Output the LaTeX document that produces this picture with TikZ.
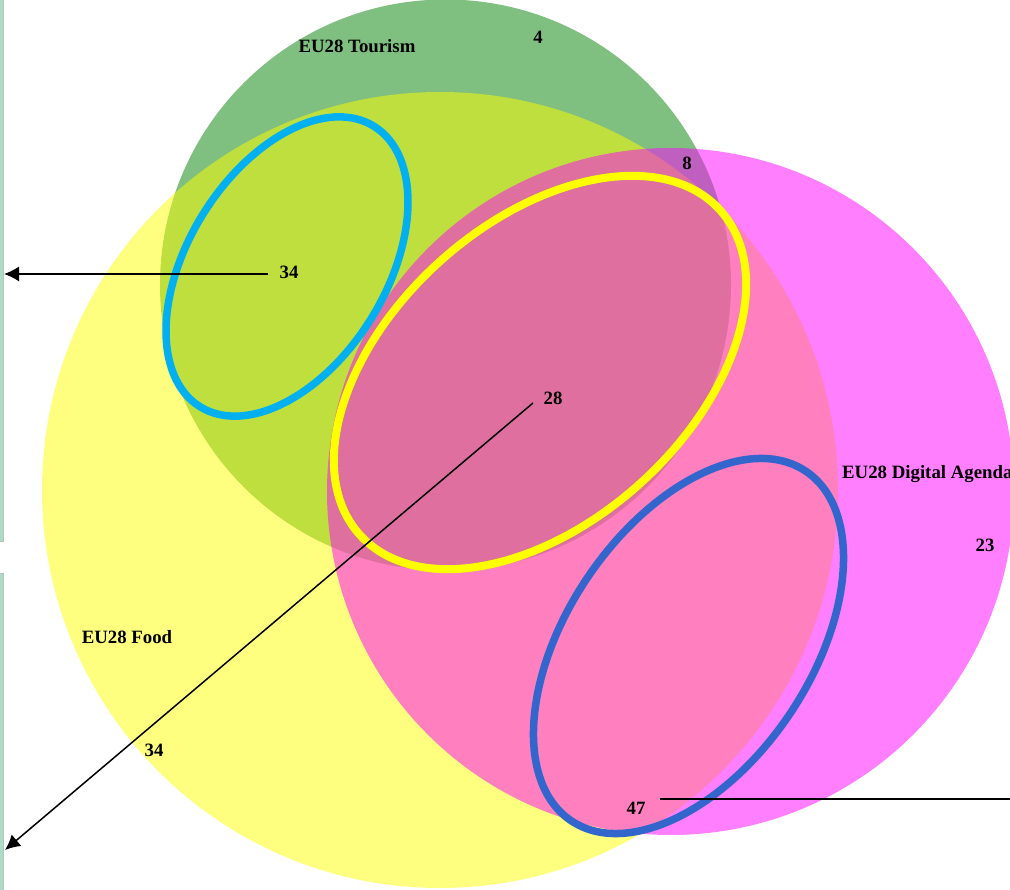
\documentclass[tikz,border=0pt]{standalone}
\usepackage{fontspec}
\setmainfont{Liberation Serif}
\usetikzlibrary{arrows.meta}
\definecolor{setgreen}{RGB}{0,128,0}
\definecolor{setyellow}{RGB}{255,255,0}
\definecolor{setmagenta}{RGB}{255,0,255}
\definecolor{ringcyan}{RGB}{0,176,240}
\definecolor{ringyellow}{RGB}{255,255,0}
\definecolor{ringblue}{RGB}{51,102,204}
\definecolor{strip}{RGB}{169,222,197}
\tikzset{
  setfill/.style={fill=#1, fill opacity=0.5},
  ring/.style={draw=#1, line width=7.5pt},
  lbl/.style={font=\fontsize{18.8}{20}\selectfont\bfseries, text=black, inner sep=0pt, anchor=base},
  pointer/.style={draw=black, line width=1.5pt},
  pointerarrow/.style={pointer, -{Latex[length=15pt,width=15pt]}},
  stripbox/.style={fill=strip, draw=black!25, line width=1pt}
}
\begin{document}
\begin{tikzpicture}[x=1pt,y=-1pt]
\useasboundingbox (0,0) rectangle (1010,890);
\clip (0,0) rectangle (1010,890);
\fill[white] (0,0) rectangle (1010,890);
% left strip
\path[stripbox] (-2,-2) rectangle (3.5,541);
\path[stripbox] (-2,573) rectangle (3.5,892);
% set circles
\fill[setfill=setgreen] (445.5,285) circle [radius=285.5];
\fill[setfill=setyellow] (440,490) circle [radius=398];
\fill[setfill=setmagenta] (670.5,491.5) circle [radius=343.5];
% highlight rings
\draw[ring=ringcyan, rotate around={58.2:(287,266.5)}] (287,266.5) ellipse [x radius=165, y radius=99];
\draw[ring=ringyellow, line width=8pt, rotate around={42:(540,372.5)}] (540,372.5) ellipse [x radius=242.5, y radius=149.5];
\draw[ring=ringblue, rotate around={56.1:(688.5,646)}] (688.5,646) ellipse [x radius=210.5, y radius=122];
% labels
\node[lbl] (tourism) at (357,52.5) {EU28 Tourism};
\node[lbl] (nfour) at (538,43.5) {4};
\node[lbl] (neight) at (687,169.5) {8};
\node[lbl] (nthirtyfoura) at (289,278.5) {34};
\node[lbl] (ntwentyeight) at (553,404.5) {28};
\node[lbl, anchor=base west] (digital) at (842,478.5) {EU28 Digital Agenda};
\node[lbl] (ntwentythree) at (985,551.5) {23};
\node[lbl] (food) at (127,643.5) {EU28 Food};
\node[lbl] (nthirtyfourb) at (154,756.5) {34};
\node[lbl] (nfortyseven) at (636,814.5) {47};
% pointers
\coordinate (p1s) at (268,274);
\coordinate (p1e) at (4,274);
\coordinate (p2s) at (533,403);
\coordinate (p2e) at (5,850);
\coordinate (p3s) at (660,799);
\coordinate (p3e) at (1012,799);
\draw[pointerarrow] (p1s) -- (p1e);
\draw[pointerarrow] (p2s) -- (p2e);
\draw[pointer] (p3s) -- (p3e);
\end{tikzpicture}
\end{document}
